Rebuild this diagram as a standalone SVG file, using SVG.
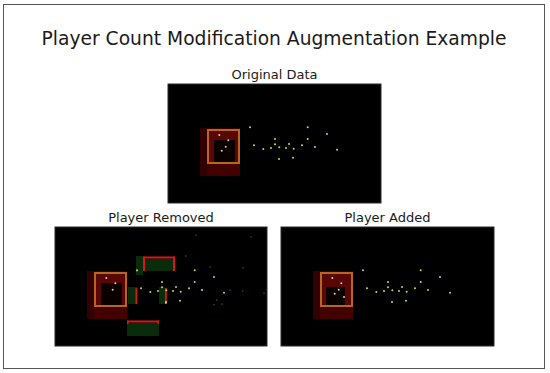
<svg xmlns="http://www.w3.org/2000/svg" xmlns:xlink="http://www.w3.org/1999/xlink" width="550" height="373" viewBox="0 0 550 373">
<style>
  .title{font-family:"DejaVu Sans","Liberation Sans",sans-serif;font-size:18.7px;fill:#1a1a1a;text-anchor:middle}
  .sub{font-family:"DejaVu Sans","Liberation Sans",sans-serif;font-size:13px;fill:#1a1a1a;text-anchor:middle}
  .panel{fill:#000;stroke:#2a2a2a;stroke-width:1}
  .dot{fill:#c8d84a}
  .pdot{fill:#e8c8b8}
  .gdot{fill:#1c6a1c}
  .box{fill:none;stroke:#b8661c;stroke-width:2}
  .rbar{fill:#d81818}
  .gfill{fill:#0a2c0a}
</style>
<defs>
  <g id="field">
    <circle class="dot" cx="82" cy="43.3" r="1"/>
    <circle class="dot" cx="139.7" cy="43.3" r="1"/>
    <circle class="dot" cx="159" cy="50" r="1"/>
    <circle class="dot" cx="86" cy="61.3" r="1"/>
    <circle class="dot" cx="95.3" cy="65" r="1"/>
    <circle class="dot" cx="103" cy="64" r="1"/>
    <circle class="dot" cx="107" cy="55" r="1"/>
    <circle class="dot" cx="107" cy="60.3" r="1"/>
    <circle class="dot" cx="111.3" cy="63.3" r="1"/>
    <circle class="dot" cx="118" cy="64" r="1"/>
    <circle class="dot" cx="121" cy="60" r="1"/>
    <circle class="dot" cx="125.7" cy="64.7" r="1"/>
    <circle class="dot" cx="134" cy="61.3" r="1"/>
    <circle class="dot" cx="139.7" cy="55" r="1"/>
    <circle class="dot" cx="147" cy="63" r="1"/>
    <circle class="dot" cx="169" cy="65.7" r="1"/>
    <circle class="dot" cx="111" cy="75" r="1"/>
    <circle class="dot" cx="125" cy="73.7" r="1"/>
  </g>
  <g id="redzone">
    <rect x="32" y="44" width="40" height="48" fill="#320000"/>
    <rect x="39" y="45" width="33" height="35" fill="#580606"/>
    <rect x="39" y="80" width="33" height="12" fill="#420000"/>
  </g>
</defs>

<rect x="3.5" y="4.5" width="541" height="364" fill="#fff" stroke="#555" stroke-width="1"/>
<text class="title" x="274" y="45">Player Count Modification Augmentation Example</text>

<g id="original">
  <text class="sub" x="274.5" y="79">Original Data</text>
  <rect class="panel" x="168" y="84" width="213" height="119"/>
  <g transform="translate(168,84)">
    <use xlink:href="#redzone"/>
    <rect x="46" y="56" width="21" height="23" fill="#0a0000"/>
    <rect class="box" x="40" y="46" width="31" height="33"/>
    <circle class="pdot" cx="51.3" cy="51" r="1"/>
    <circle class="pdot" cx="60.3" cy="56.3" r="1"/>
    <circle class="pdot" cx="57.7" cy="62.7" r="1"/>
    <circle class="pdot" cx="53.7" cy="66.7" r="1"/>
    <use xlink:href="#field"/>
  </g>
</g>

<g id="removed">
  <text class="sub" x="161" y="222">Player Removed</text>
  <rect class="panel" x="55" y="227" width="212" height="119"/>
  <g transform="translate(55,227)">
    <use xlink:href="#redzone"/>
    <rect x="46" y="56" width="21" height="23" fill="#0a0000"/>
    <rect class="box" x="40" y="46" width="31" height="33"/>
    <circle class="pdot" cx="51.3" cy="51" r="1"/>
    <circle class="pdot" cx="60.3" cy="56.3" r="1"/>
    <circle class="pdot" cx="57.7" cy="62.7" r="1"/>
    <rect class="gfill" x="81" y="29" width="7" height="19"/>
    <rect class="gfill" x="90" y="32" width="28" height="12"/>
    <rect class="gfill" x="72" y="96" width="32" height="13"/>
    <rect class="gfill" x="73" y="60" width="7" height="17"/>
    <rect class="gfill" x="104" y="60" width="6" height="17"/>
    <rect class="rbar" x="88" y="29.5" width="32" height="2"/>
    <rect class="rbar" x="88" y="29.5" width="2" height="14.5"/>
    <rect class="rbar" x="118" y="29.5" width="2" height="14.5"/>
    <rect class="rbar" x="72" y="93.5" width="32" height="2"/>
    <rect class="rbar" x="72" y="93.5" width="1.5" height="3.5"/>
    <rect class="rbar" x="102.5" y="93.5" width="1.5" height="3.5"/>
    <rect class="rbar" x="80.3" y="60.5" width="1.8" height="16.5"/>
    <rect class="rbar" x="110" y="61" width="1.8" height="16"/>
    <rect x="110" y="75" width="1.8" height="1.5" fill="#f0c0c0"/>
    <circle class="gdot" cx="81.7" cy="44" r="0.9"/>
    <circle class="gdot" cx="130.7" cy="29" r="0.8"/>
    <circle class="gdot" cx="155" cy="40" r="0.8"/>
    <circle class="gdot" cx="188" cy="40.7" r="0.8"/>
    <circle class="gdot" cx="187.7" cy="64" r="0.8"/>
    <circle class="gdot" cx="209" cy="66.3" r="0.8"/>
    <circle class="gdot" cx="147" cy="62.7" r="0.9"/>
    <circle class="gdot" cx="161.7" cy="73" r="0.8"/>
    <circle class="gdot" cx="175" cy="63" r="0.8"/>
    <circle class="gdot" cx="196" cy="10" r="0.8"/>
    <circle class="gdot" cx="141" cy="8.3" r="0.8"/>
    <circle class="gdot" cx="167" cy="77" r="0.8"/>
    <circle class="gdot" cx="159" cy="77.7" r="0.8"/>
    <use xlink:href="#field"/>
  </g>
</g>

<g id="added">
  <text class="sub" x="387.5" y="222">Player Added</text>
  <rect class="panel" x="281" y="227" width="213" height="119"/>
  <g transform="translate(281,227)">
    <use xlink:href="#redzone"/>
    <rect x="45" y="60" width="19" height="19" fill="#0a0000"/>
    <rect class="box" x="40" y="46" width="31" height="33"/>
    <circle class="pdot" cx="51.3" cy="51" r="1"/>
    <circle class="pdot" cx="60.3" cy="56.3" r="1"/>
    <circle class="pdot" cx="57.7" cy="62.7" r="1"/>
    <circle class="pdot" cx="53.7" cy="66.7" r="1"/>
    <circle class="pdot" cx="63" cy="70" r="1"/>
    <use xlink:href="#field"/>
  </g>
</g>
</svg>
